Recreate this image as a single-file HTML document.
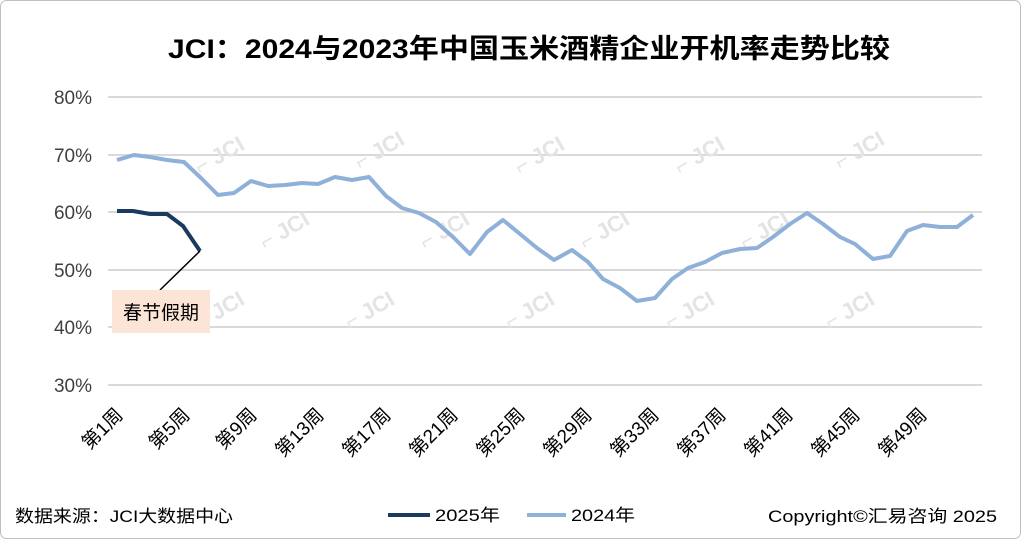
<!DOCTYPE html>
<html><head><meta charset="utf-8"><style>
body{margin:0;background:#fff}
svg{display:block;font-family:"Liberation Sans","Noto Sans CJK SC",sans-serif}
</style></head><body>
<svg width="1021" height="539" viewBox="0 0 1021 539" xmlns="http://www.w3.org/2000/svg">
<rect x="0.5" y="0.5" width="1020" height="538" rx="6" fill="#fff" stroke="#bfbfbf"/>
<text x="168" y="58" font-size="27" font-weight="bold" fill="#000" textLength="722" lengthAdjust="spacingAndGlyphs">JCI：2024与2023年中国玉米酒精企业开机率走势比较</text>
<g stroke="#d9d9d9" stroke-width="2">
<line x1="108" y1="97" x2="982" y2="97"/><line x1="108" y1="155" x2="982" y2="155"/>
<line x1="108" y1="212" x2="982" y2="212"/><line x1="108" y1="270" x2="982" y2="270"/>
<line x1="108" y1="327" x2="982" y2="327"/><line x1="108" y1="385" x2="982" y2="385"/>
</g>
<g font-size="19" fill="#404040" text-anchor="end">
<text x="92" y="104">80%</text><text x="92" y="162">70%</text><text x="92" y="219">60%</text>
<text x="92" y="277">50%</text><text x="92" y="334">40%</text><text x="92" y="392">30%</text>
</g>
<g font-size="22" fill="#e4e4e4" font-weight="bold">
<text transform="translate(200,175) rotate(-30)">⌐ JCI</text>
<text transform="translate(360,170) rotate(-30)">⌐ JCI</text>
<text transform="translate(520,175) rotate(-30)">⌐ JCI</text>
<text transform="translate(680,175) rotate(-30)">⌐ JCI</text>
<text transform="translate(840,170) rotate(-30)">⌐ JCI</text>
<text transform="translate(265,250) rotate(-30)">⌐ JCI</text>
<text transform="translate(425,250) rotate(-30)">⌐ JCI</text>
<text transform="translate(585,250) rotate(-30)">⌐ JCI</text>
<text transform="translate(745,250) rotate(-30)">⌐ JCI</text>
<text transform="translate(200,330) rotate(-30)">⌐ JCI</text>
<text transform="translate(350,330) rotate(-30)">⌐ JCI</text>
<text transform="translate(510,330) rotate(-30)">⌐ JCI</text>
<text transform="translate(670,330) rotate(-30)">⌐ JCI</text>
<text transform="translate(830,330) rotate(-30)">⌐ JCI</text>
</g>
<polyline fill="none" stroke="#8eb0d9" stroke-width="4" stroke-linejoin="round" points="117,160 134,155 150,157 167,160 184,162 201,178 218,195 234,193 251,181 268,186 285,185 302,183 318,184 335,177 352,180 369,177 386,196 402,208 419,213 436,222 453,237 470,254 487,232 503,220 520,234 537,248 554,260 572,250 588,262 603,279 620,288 637,301 655,298 672,279 688,268 705,262 722,253 740,249 757,248 773,237 790,224 807,213 823,224 840,237 855,244 873,259 890,256 907,231 923,225 940,227 957,227 973,215"/>
<polyline fill="none" stroke="#1a3a5e" stroke-width="4" stroke-linejoin="round" points="117,211 133,211 150,214 167,214 183,226 200,251"/>
<line x1="200" y1="251" x2="160" y2="290" stroke="#000" stroke-width="1.5"/>
<rect x="112" y="290" width="98" height="43" fill="#fce4d6"/>
<text x="161" y="319" text-anchor="middle" font-size="19" fill="#000">春节假期</text>
<g font-size="19" fill="#000" text-anchor="end">
<text transform="translate(124,416) rotate(-45)">第1周</text>
<text transform="translate(191,416) rotate(-45)">第5周</text>
<text transform="translate(258,416) rotate(-45)">第9周</text>
<text transform="translate(325,416) rotate(-45)">第13周</text>
<text transform="translate(392,416) rotate(-45)">第17周</text>
<text transform="translate(459,416) rotate(-45)">第21周</text>
<text transform="translate(526,416) rotate(-45)">第25周</text>
<text transform="translate(593,416) rotate(-45)">第29周</text>
<text transform="translate(660,416) rotate(-45)">第33周</text>
<text transform="translate(727,416) rotate(-45)">第37周</text>
<text transform="translate(794,416) rotate(-45)">第41周</text>
<text transform="translate(861,416) rotate(-45)">第45周</text>
<text transform="translate(928,416) rotate(-45)">第49周</text>
</g>
<text x="15" y="522" font-size="17" fill="#000" textLength="218" lengthAdjust="spacingAndGlyphs">数据来源：JCI大数据中心</text>
<line x1="388" y1="515" x2="430" y2="515" stroke="#1a3a5e" stroke-width="4"/>
<text x="435" y="521" font-size="17" fill="#000" textLength="65" lengthAdjust="spacingAndGlyphs">2025年</text>
<line x1="527" y1="515" x2="566" y2="515" stroke="#8eb0d9" stroke-width="4"/>
<text x="571" y="521" font-size="17" fill="#000" textLength="64" lengthAdjust="spacingAndGlyphs">2024年</text>
<text x="768" y="522" font-size="17" fill="#000" textLength="229" lengthAdjust="spacingAndGlyphs">Copyright©汇易咨询 2025</text>
</svg>
</body></html>
